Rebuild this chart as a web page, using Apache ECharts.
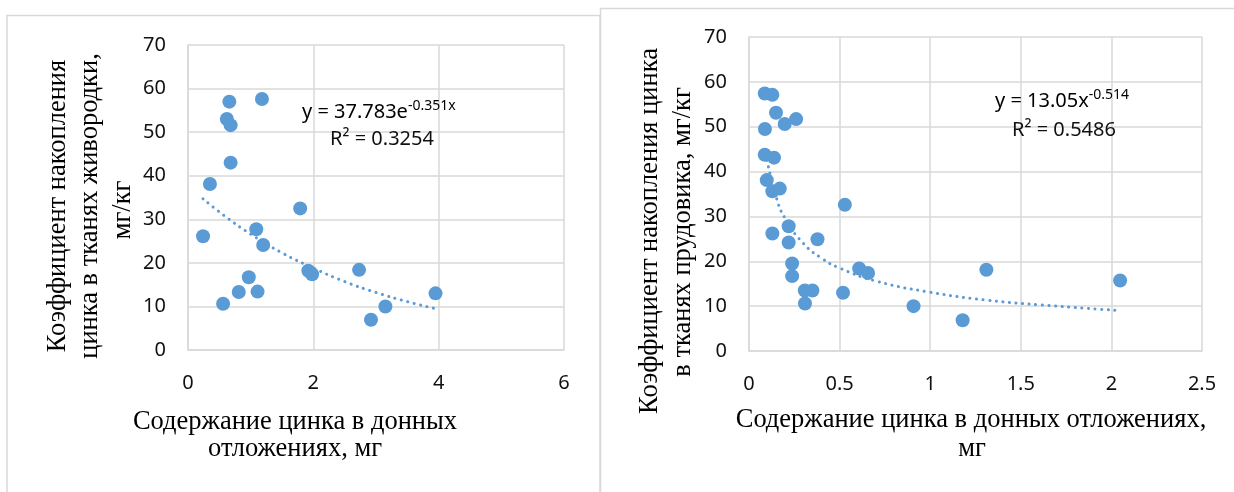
<!DOCTYPE html>
<html>
<head>
<meta charset="utf-8">
<script src="https://cdn.jsdelivr.net/npm/echarts@6/dist/echarts.min.js"></script>
<style>
html, body {margin:0; padding:0; background:#fff;}
#chart {width:1234px; height:492px;}
</style>
</head>
<body>
<div id="chart"></div>
<script>
// левый график: живородка
var xLiv = [0.66, 1.18, 0.62, 0.68, 0.68, 0.35, 1.79, 0.24, 1.09, 1.20, 0.97, 0.81, 1.11, 0.56, 1.92, 1.98, 2.73, 3.15, 2.92, 3.95];
var yLiv = [57.0, 57.6, 53.0, 51.6, 43.0, 38.1, 32.5, 26.1, 27.7, 24.1, 16.7, 13.3, 13.4, 10.6, 18.2, 17.4, 18.4, 10.0, 6.95, 13.0];
// линия тренда
var trendLivX = [0.24, 0.6, 1.0, 1.5, 2.0, 2.5, 3.0, 3.5, 3.95];
var trendLivY = [34.7, 30.6, 26.6, 22.3, 18.8, 15.7, 13.2, 11.1, 9.5];

// правый график: прудовик
var xPrud = [0.087, 0.129, 0.149, 0.197, 0.26, 0.088, 0.087, 0.138, 0.098, 0.129, 0.17, 0.529, 0.129, 0.219, 0.219, 0.378, 0.238, 0.238, 0.308, 0.35, 0.309, 0.519, 0.608, 0.657, 0.908, 1.179, 1.31, 2.048];
var yPrud = [57.4, 57.1, 53.1, 50.6, 51.7, 49.5, 43.75, 43.1, 38.1, 35.6, 36.2, 32.6, 26.2, 27.8, 24.2, 24.9, 19.5, 16.7, 13.5, 13.5, 10.6, 13.0, 18.4, 17.4, 10.0, 6.85, 18.1, 15.7];
var trendPrudX = [0.1, 0.15, 0.2, 0.3, 0.4, 0.5, 0.7, 1.0, 1.3, 1.6, 2.05];
var trendPrudY = [42.5, 34.3, 29.5, 24.0, 20.7, 18.5, 15.6, 13.1, 11.4, 10.3, 9.0];

var yTicks = [0, 10, 20, 30, 40, 50, 60, 70];

function pairs(xs, ys) {
    return xs.map(function (x, i) { return [x, ys[i]]; });
}

var myChart = echarts.init(document.getElementById('chart'));

var blue = '#5B9BD5';
var gridColor = '#d9d9d9';
var sans = 'Noto Sans';

function xAx(idx, max, interval) {
    return {
        gridIndex: idx, type: 'value', min: 0, max: max, interval: interval,
        axisLine: {show: true, lineStyle: {color: gridColor, width: 1.5}},
        axisTick: {show: false},
        splitLine: {show: true, lineStyle: {color: gridColor, width: 1.5}},
        axisLabel: {color: '#111', fontFamily: sans, fontSize: 20, margin: 23}
    };
}
function yAx(idx) {
    return {
        gridIndex: idx, type: 'value', min: yTicks[0], max: yTicks[yTicks.length - 1], interval: 10,
        axisLine: {show: true, lineStyle: {color: gridColor, width: 1.5}},
        axisTick: {show: false},
        splitLine: {show: true, lineStyle: {color: gridColor, width: 1.5}},
        axisLabel: {color: '#111', fontFamily: sans, fontSize: 20, margin: 22}
    };
}
function txt(x, y, text, rot) {
    return {
        type: 'text', x: x, y: y, rotation: rot || 0, z: 10,
        style: {text: text, fill: '#000', font: '26.5px "Liberation Serif"', textAlign: 'center', textVerticalAlign: 'middle'}
    };
}
function eq(x, y, main, sup) {
    return {
        type: 'text', x: x, y: y, z: 10,
        style: {
            text: '{a|' + main + '}{s|' + sup + '}',
            textAlign: 'left', textVerticalAlign: 'middle',
            rich: {
                a: {fontFamily: sans, fontSize: 20, color: '#111', lineHeight: 26},
                s: {fontFamily: sans, fontSize: 14, color: '#111', verticalAlign: 'top', lineHeight: 26}
            }
        }
    };
}

var option = {
    backgroundColor: '#fff',
    animation: false,
    grid: [
        {left: 188, top: 45, width: 376, height: 305},
        {left: 749, top: 37, width: 453, height: 314}
    ],
    xAxis: [xAx(0, 6, 2), xAx(1, 2.5, 0.5)],
    yAxis: [yAx(0), yAx(1)],
    graphic: [
        {type: 'rect', shape: {x: 7, y: 15.5, width: 593, height: 520}, style: {fill: 'none', stroke: gridColor, lineWidth: 1.5}},
        {type: 'rect', shape: {x: 600.5, y: 8.5, width: 700, height: 520}, style: {fill: 'none', stroke: gridColor, lineWidth: 1.5}},
        // подписи осей левого графика
        txt(58, 206, 'Коэффициент накопления', Math.PI / 2),
        txt(90, 206, 'цинка в тканях живородки,', Math.PI / 2),
        txt(123, 210, 'мг/кг', Math.PI / 2),
        txt(295, 422, 'Содержание цинка в донных'),
        txt(295, 449, 'отложениях, мг'),
        // подписи осей правого графика
        txt(650, 231, 'Коэффициент накопления цинка', Math.PI / 2),
        txt(683, 232, 'в тканях прудовика, мг/кг', Math.PI / 2),
        txt(971, 420, 'Содержание цинка в донных отложениях,'),
        txt(972, 449, 'мг'),
        // уравнения тренда
        eq(302, 112, 'y = 37.783e', '-0.351x'),
        {type: 'text', x: 382, y: 139, z: 10, style: {text: 'R² = 0.3254', fill: '#111', font: '20px "Noto Sans"', textAlign: 'center', textVerticalAlign: 'middle'}},
        eq(995, 101, 'y = 13.05x', '-0.514'),
        {type: 'text', x: 1064, y: 130, z: 10, style: {text: 'R² = 0.5486', fill: '#111', font: '20px "Noto Sans"', textAlign: 'center', textVerticalAlign: 'middle'}}
    ],
    series: [
        {
            type: 'scatter', xAxisIndex: 0, yAxisIndex: 0,
            symbolSize: 14, itemStyle: {color: blue, opacity: 1},
            data: pairs(xLiv, yLiv)
        },
        {
            type: 'line', xAxisIndex: 0, yAxisIndex: 0, smooth: true, showSymbol: false, z: 3,
            lineStyle: {color: blue, width: 3, type: [0.1, 6.5], cap: 'round'},
            data: pairs(trendLivX, trendLivY)
        },
        {
            type: 'scatter', xAxisIndex: 1, yAxisIndex: 1,
            symbolSize: 14, itemStyle: {color: blue, opacity: 1},
            data: pairs(xPrud, yPrud)
        },
        {
            type: 'line', xAxisIndex: 1, yAxisIndex: 1, smooth: true, showSymbol: false, z: 3,
            lineStyle: {color: blue, width: 3, type: [0.1, 6.5], cap: 'round'},
            data: pairs(trendPrudX, trendPrudY)
        }
    ]
};

myChart.setOption(option);

window.addEventListener("resize", function () {
    myChart.resize();
});
</script>
</body>
</html>
